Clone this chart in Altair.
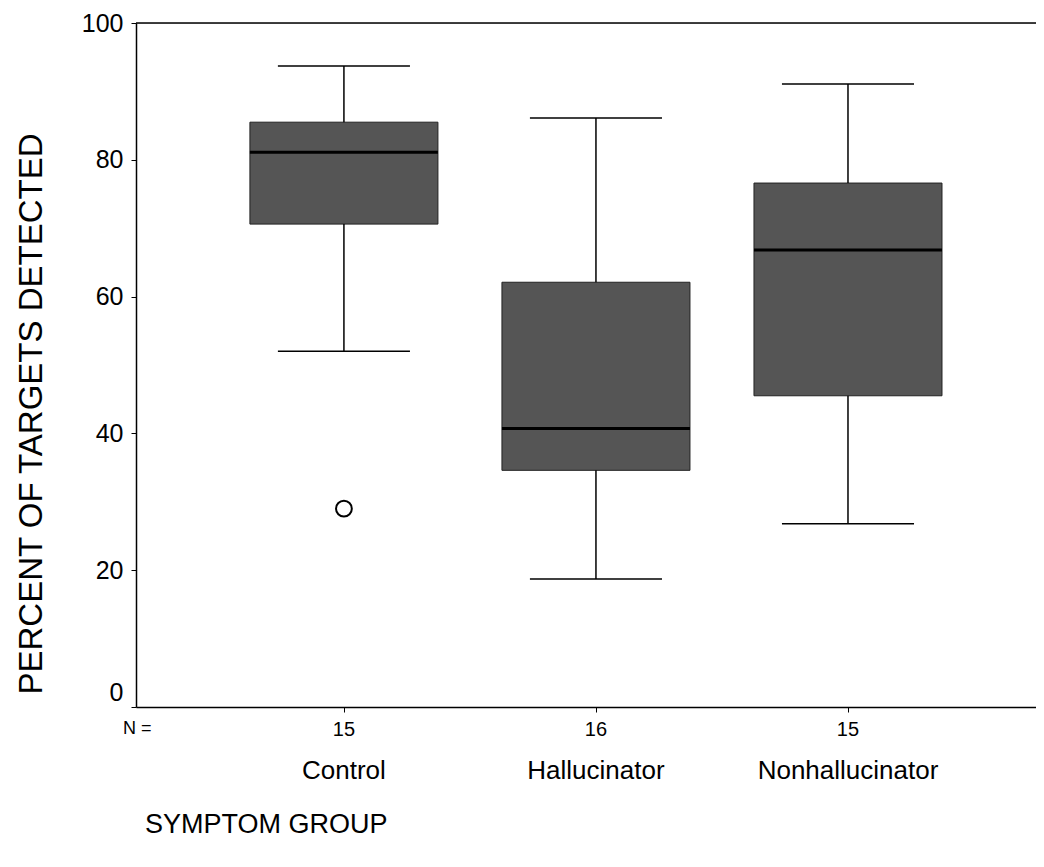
import altair as alt
import pandas as pd

groups = ["Control", "Hallucinator", "Nonhallucinator"]
positions = [1, 2, 3]
n_values = ["15", "16", "15"]
whisker_low = [52.0, 18.7, 26.8]
q1 = [70.6, 34.6, 45.5]
median = [81.1, 40.7, 66.8]
q3 = [85.5, 62.1, 76.6]
whisker_high = [93.7, 86.1, 91.1]
outlier_group = ["Control"]
outlier_pos = [1]
outlier_value = [29.0]

y_ticks = [0, 20, 40, 60, 80, 100]
x_domain = [0.175, 3.746]
box_half = 0.373
cap_half = 0.262

FONT = "Liberation Sans"
W, H = 900, 684

df = pd.DataFrame({
    "group": groups, "pos": positions, "n": n_values,
    "wlo": whisker_low, "q1": q1, "med": median, "q3": q3, "whi": whisker_high,
})
df["bx0"] = df["pos"] - box_half
df["bx1"] = df["pos"] + box_half
df["cx0"] = df["pos"] - cap_half
df["cx1"] = df["pos"] + cap_half
out_df = pd.DataFrame({"group": outlier_group, "pos": outlier_pos, "v": outlier_value})

xs = alt.Scale(domain=x_domain, nice=False, zero=False)
ys = alt.Scale(domain=[0, 100], nice=False)

base = alt.Chart(df)

x_axis = alt.Axis(values=positions, labels=False, tickSize=5, tickColor="black",
                  domainColor="black", domainWidth=1.5, grid=False, title=None)
y_axis = alt.Axis(values=y_ticks, tickSize=5, tickColor="black", domainColor="black",
                  domainWidth=1.5, grid=False, title=None, labelFont=FONT,
                  labelFontSize=25, labelColor="black", labelPadding=8,
                  labelOffset={"condition": {"test": "datum.value === 0", "value": -15},
                               "value": 0})

whisk_lo = base.mark_rule(color="black", strokeWidth=1.5).encode(
    x=alt.X("pos:Q", scale=xs, axis=x_axis),
    y=alt.Y("wlo:Q", scale=ys, axis=y_axis),
    y2="q1:Q",
)
whisk_hi = base.mark_rule(color="black", strokeWidth=1.5).encode(
    x=alt.X("pos:Q", scale=xs), y=alt.Y("q3:Q", scale=ys), y2="whi:Q",
)
cap_lo = base.mark_rule(color="black", strokeWidth=1.5).encode(
    x=alt.X("cx0:Q", scale=xs), x2="cx1:Q", y=alt.Y("wlo:Q", scale=ys),
)
cap_hi = base.mark_rule(color="black", strokeWidth=1.5).encode(
    x=alt.X("cx0:Q", scale=xs), x2="cx1:Q", y=alt.Y("whi:Q", scale=ys),
)
box = base.mark_rect(fill="#555555", stroke="#222222", strokeWidth=1).encode(
    x=alt.X("bx0:Q", scale=xs), x2="bx1:Q", y=alt.Y("q1:Q", scale=ys), y2="q3:Q",
)
med = base.mark_rule(color="black", strokeWidth=3).encode(
    x=alt.X("bx0:Q", scale=xs), x2="bx1:Q", y=alt.Y("med:Q", scale=ys),
)
outl = alt.Chart(out_df).mark_point(shape="circle", filled=False, color="black",
                                    size=250, strokeWidth=2, opacity=1).encode(
    x=alt.X("pos:Q", scale=xs), y=alt.Y("v:Q", scale=ys),
)
top_df = pd.DataFrame({"a": [x_domain[0]], "b": [x_domain[1]], "y": [100]})
top_line = alt.Chart(top_df).mark_rule(color="black", strokeWidth=1.5).encode(
    x=alt.X("a:Q", scale=xs), x2="b:Q", y=alt.Y("y:Q", scale=ys),
)

n_text = base.mark_text(font=FONT, fontSize=20, color="black", baseline="middle").encode(
    x=alt.X("pos:Q", scale=xs), y=alt.value(H + 23), text="n:N",
)
cat_text = base.mark_text(font=FONT, fontSize=26, color="black", baseline="middle").encode(
    x=alt.X("pos:Q", scale=xs), y=alt.value(H + 64), text="group:N",
)
label_df = pd.DataFrame({"t": ["N ="]})
n_eq = alt.Chart(label_df).mark_text(font=FONT, fontSize=18, color="black",
                                     baseline="middle", align="left").encode(
    x=alt.value(-13), y=alt.value(H + 22), text="t:N",
)
xt_df = pd.DataFrame({"t": ["SYMPTOM GROUP"]})
x_title = alt.Chart(xt_df).mark_text(font=FONT, fontSize=27, color="black",
                                     baseline="middle", align="left").encode(
    x=alt.value(9), y=alt.value(H + 118), text="t:N",
)
yt_df = pd.DataFrame({"t": ["PERCENT OF TARGETS DETECTED"]})
y_title = alt.Chart(yt_df).mark_text(font=FONT, fontSize=33, color="black",
                                     baseline="middle", align="center", angle=270).encode(
    x=alt.value(-104), y=alt.value(391), text="t:N",
)

chart = alt.layer(
    box, whisk_lo, whisk_hi, cap_lo, cap_hi, med, outl, top_line,
    n_text, cat_text, n_eq, x_title, y_title,
).properties(
    width=W, height=H,
    autosize=alt.AutoSizeParams(type="none"),
    padding={"left": 128, "top": 15, "right": 0, "bottom": 150},
).configure_view(stroke=None).configure(background="white")

chart.save("out.html", embed_options={"renderer": "svg", "actions": False})
